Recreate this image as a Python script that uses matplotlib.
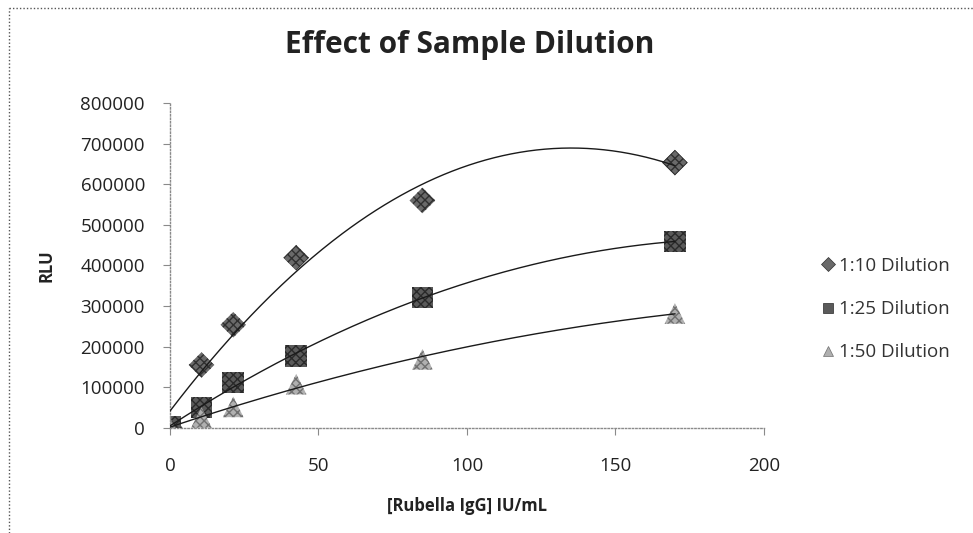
import numpy as np
import matplotlib.pyplot as plt
from matplotlib.lines import Line2D

# ── Data ──────────────────────────────────────────────────────────────────
conc = [0, 10.6, 21.3, 42.5, 85, 170]          # [Rubella IgG] IU/mL
rlu_10 = [0, 155000, 254000, 419000, 560000, 653000]
rlu_25 = [3000, 51000, 112000, 177000, 321000, 459000]
rlu_50 = [0, 26000, 52000, 108000, 169000, 282000]

labels = ["1:10 Dilution", "1:25 Dilution", "1:50 Dilution"]
x_ticks = [0, 50, 100, 150, 200]
y_ticks = [0, 100000, 200000, 300000, 400000, 500000, 600000, 700000, 800000]

FONT = "Open Sans"
AXIS_GRAY = "#8a8a8a"

fig = plt.figure(figsize=(9.73, 5.33), dpi=100)
ax = fig.add_axes([0.1747, 0.197, 0.6105, 0.61])

series = [
    (rlu_10, "D", 170, "#6a6a6a", "#303030"),
    (rlu_25, "s", 240, "#5a5a5a", "#2a2a2a"),
    (rlu_50, "^", 220, "#b0b0b0", "#707070"),
]

xx = np.linspace(0, max(conc), 300)
for vals, mk, sz, fc, ec in series:
    # Excel-style 2nd order polynomial trendline
    coef = np.polyfit(conc, vals, 2)
    ax.plot(xx, np.polyval(coef, xx), color="#1a1a1a", lw=1.0, zorder=3)
    ax.scatter(conc, vals, marker=mk, s=sz, facecolor=fc, edgecolor=ec,
               hatch="xxxx", linewidths=0, zorder=2)

ax.set_xlim(0, 200)
ax.set_ylim(0, 800000)
ax.set_xticks(x_ticks)
ax.set_yticks(y_ticks)
ax.set_xticklabels([str(t) for t in x_ticks], fontfamily=FONT, fontsize=13.5, color="#222")
ax.set_yticklabels([str(t) for t in y_ticks], fontfamily=FONT, fontsize=13.5, color="#222")
ax.tick_params(axis="both", direction="out", length=5, width=0.8, color=AXIS_GRAY)
ax.tick_params(axis="x", pad=16)
ax.tick_params(axis="y", pad=13)

for side in ["top", "right"]:
    ax.spines[side].set_visible(False)
for side in ["left", "bottom"]:
    ax.spines[side].set_color(AXIS_GRAY)
    ax.spines[side].set_linestyle((0, (1, 1.5)))
    ax.spines[side].set_linewidth(1.0)

ax.set_xlabel("[Rubella IgG] IU/mL", fontfamily=FONT, fontweight="bold",
              fontsize=12, color="#222", labelpad=16)
ax.set_ylabel("RLU", fontfamily=FONT, fontweight="bold", fontsize=12,
              color="#222", labelpad=18)

fig.text(0.483, 0.916, "Effect of Sample Dilution", ha="center", va="center",
         fontfamily=FONT, fontweight="bold", fontsize=21.5, color="#222")

# legend
handles = []
for (vals, mk, sz, fc, ec), lab in zip(series, labels):
    handles.append(Line2D([], [], linestyle="none", marker=mk, markersize=7,
                          markerfacecolor=fc, markeredgecolor=ec, markeredgewidth=0.5,
                          label=lab))
leg = fig.legend(handles=handles, loc="center left", bbox_to_anchor=(0.828, 0.42),
                 frameon=False, handlelength=0.6, handletextpad=0.3,
                 labelspacing=1.35, prop={"family": FONT, "size": 13.5})
for t in leg.get_texts():
    t.set_color("#333")

# dotted frame of the original chart area
fig.add_artist(Line2D([0.009, 0.009], [0.0, 0.985], transform=fig.transFigure,
                      color="#555", lw=1.0, linestyle=(0, (1, 1.5))))
fig.add_artist(Line2D([0.009, 1.0], [0.985, 0.985], transform=fig.transFigure,
                      color="#555", lw=1.0, linestyle=(0, (1, 1.5))))

fig.savefig("out.png", dpi=100, facecolor="white")
